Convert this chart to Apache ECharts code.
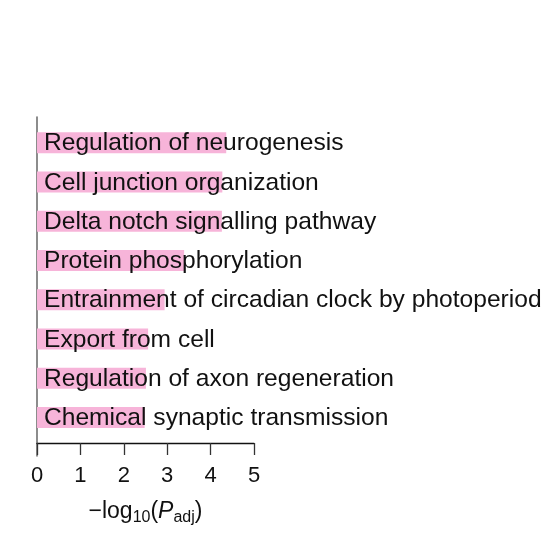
<!DOCTYPE html>
<html>
<head>
<meta charset="utf-8">
<script src="https://cdn.jsdelivr.net/npm/echarts@6/dist/echarts.min.js"></script>
<style>
  html, body { margin: 0; padding: 0; background: #fff; }
  #main { width: 543px; height: 538px; }
</style>
</head>
<body>
<div id="main"></div>
<script>
// GO terms, top to bottom
var terms = [
    'Regulation of neurogenesis',
    'Cell junction organization',
    'Delta notch signalling pathway',
    'Protein phosphorylation',
    'Entrainment of circadian clock by photoperiod',
    'Export from cell',
    'Regulation of axon regeneration',
    'Chemical synaptic transmission'
];
// -log10(Padj)
var negLogP = [4.36, 4.27, 4.26, 3.39, 2.94, 2.56, 2.51, 2.48];
var xTicks = [0, 1, 2, 3, 4, 5];

var font = 'Liberation Sans, Arial, Helvetica, sans-serif';
var myChart = echarts.init(document.getElementById('main'));

var option = {
    backgroundColor: '#fff',
    animation: false,
    grid: [
        { left: 37, width: 217, top: 123, height: 314 },
        // only carries the long vertical axis line
        { left: 37, width: 217, top: 117, height: 339 }
    ],
    xAxis: [{
        gridIndex: 0,
        type: 'value',
        min: xTicks[0],
        max: xTicks[xTicks.length - 1],
        interval: 1,
        offset: 6,
        axisLine: { show: true, lineStyle: { color: '#111', width: 1.3 } },
        axisTick: { show: true, length: 12, lineStyle: { color: '#333', width: 1.3 } },
        axisLabel: { fontSize: 22, color: '#111', fontFamily: font, margin: 22 },
        splitLine: { show: false },
        name: '−log{sub|10}({it|P}{sub|adj})',
        nameLocation: 'middle',
        nameGap: 54,
        nameTextStyle: {
            fontSize: 23, color: '#111', fontFamily: font,
            rich: {
                sub: { fontSize: 16, color: '#111', fontFamily: font, verticalAlign: 'bottom', padding: [13, 0, 0, 0] },
                it: { fontSize: 23, color: '#111', fontFamily: font, fontStyle: 'italic' }
            }
        }
    }, {
        gridIndex: 1,
        type: 'value',
        show: false
    }],
    yAxis: [{
        gridIndex: 0,
        type: 'category',
        inverse: true,
        data: terms,
        axisLine: { show: false },
        axisTick: { show: false },
        axisLabel: { show: false }
    }, {
        gridIndex: 1,
        type: 'value',
        axisLine: { show: true, lineStyle: { color: '#707070', width: 1.6 } },
        axisTick: { show: false },
        axisLabel: { show: false },
        splitLine: { show: false }
    }],
    series: [{
        type: 'bar',
        xAxisIndex: 0,
        yAxisIndex: 0,
        data: negLogP,
        barWidth: 21,
        itemStyle: { color: '#f7b4d9' },
        label: {
            show: true,
            position: 'insideLeft',
            distance: 7,
            offset: [0, 1],
            formatter: '{b}',
            fontSize: 24.6,
            color: '#111',
            fontFamily: font,
            textBorderWidth: 0
        }
    }]
};
myChart.setOption(option);
</script>
</body>
</html>
